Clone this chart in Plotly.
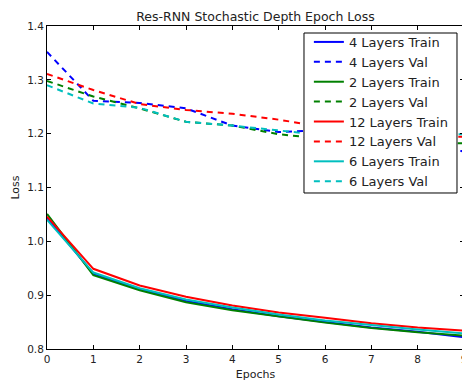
import plotly.graph_objects as go

epochs = [0, 1, 2, 3, 4, 5, 6, 7, 8, 9]

train_4 = [1.044, 0.940, 0.911, 0.889, 0.874, 0.861, 0.850, 0.840, 0.832, 0.822]
val_4 = [1.352, 1.261, 1.257, 1.247, 1.215, 1.203, 1.207, 1.195, 1.180, 1.167]
train_2 = [1.051, 0.937, 0.909, 0.887, 0.872, 0.860, 0.849, 0.839, 0.831, 0.825]
val_2 = [1.298, 1.269, 1.247, 1.222, 1.215, 1.199, 1.190, 1.188, 1.185, 1.182]
train_12 = [1.046, 0.949, 0.918, 0.897, 0.881, 0.868, 0.858, 0.848, 0.840, 0.834]
val_12 = [1.311, 1.281, 1.255, 1.244, 1.237, 1.226, 1.212, 1.203, 1.197, 1.194]
train_6 = [1.040, 0.942, 0.913, 0.892, 0.877, 0.864, 0.853, 0.844, 0.836, 0.829]
val_6 = [1.290, 1.256, 1.248, 1.222, 1.215, 1.206, 1.197, 1.198, 1.199, 1.199]

series = [
    ("4 Layers Train", train_4, "#0000ff", "solid"),
    ("4 Layers Val", val_4, "#0000ff", "6px,5px"),
    ("2 Layers Train", train_2, "#008000", "solid"),
    ("2 Layers Val", val_2, "#008000", "6px,5px"),
    ("12 Layers Train", train_12, "#ff0000", "solid"),
    ("12 Layers Val", val_12, "#ff0000", "6px,5px"),
    ("6 Layers Train", train_6, "#00bfbf", "solid"),
    ("6 Layers Val", val_6, "#00bfbf", "6px,5px"),
]

fig = go.Figure()
for name, vals, color, dash in series:
    fig.add_trace(go.Scatter(x=epochs, y=vals, mode="lines", name=name,
                             line=dict(color=color, width=2, dash=dash)))

axis_common = dict(showline=True, linecolor="black", linewidth=1, mirror="ticks",
                   ticks="inside", ticklen=4, tickcolor="black", showgrid=False,
                   zeroline=False, automargin=False,
                   tickfont=dict(size=10.5, color="#222"))

# legend frame drawn as a shape so its size matches the reference
fig.add_shape(type="rect", xref="paper", yref="paper",
              x0=0.6163, x1=0.9832, y0=0.483, y1=0.9783,
              line=dict(color="black", width=1), fillcolor="white", layer="above")

# the page body has an 8px margin, so the figure is offset by 8px in the window
W, H = 462, 380
fig.update_layout(
    width=W, height=H,
    margin=dict(l=39, r=6, t=18, b=39, autoexpand=False),
    paper_bgcolor="white", plot_bgcolor="white",
    font=dict(family="DejaVu Sans", color="#222"),
    title=dict(text="Res-RNN Stochastic Depth Epoch Loss", x=0.5, xref="paper",
               y=1 - 9 / H, yref="container", yanchor="middle", xanchor="center",
               font=dict(size=12.5, color="#222"), automargin=False),
    xaxis=dict(range=[0, 9], dtick=1, tick0=0,
               title=dict(text="Epochs", font=dict(size=11), standoff=6), **axis_common),
    yaxis=dict(range=[0.8, 1.4], dtick=0.1, tick0=0.8, tickformat=".1f",
               title=dict(text="Loss", font=dict(size=11), standoff=5), **axis_common),
    legend=dict(x=0.628, y=0.997, xanchor="left", yanchor="top",
                bgcolor="rgba(0,0,0,0)", borderwidth=0,
                font=dict(size=13, color="#222"), tracegroupgap=0),
    showlegend=True,
)

fig.write_html("out.html")
